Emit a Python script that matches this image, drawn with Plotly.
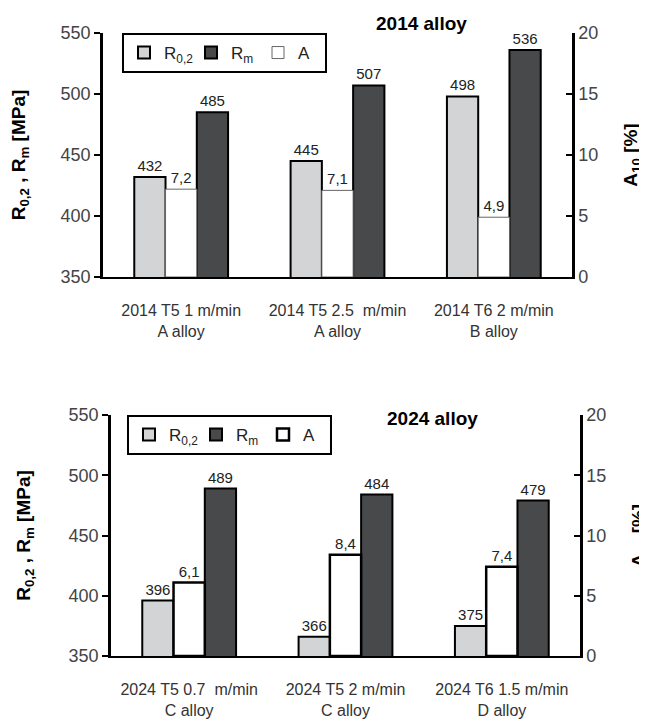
import plotly.graph_objects as go

# ---- data ----
cats_2014 = ["2014 T5 1 m/min<br>A alloy", "2014 T5 2.5  m/min<br>A alloy", "2014 T6 2 m/min<br>B alloy"]
r02_2014 = [432, 445, 498]
rm_2014 = [485, 507, 536]
a_2014 = [7.2, 7.1, 4.9]

cats_2024 = ["2024 T5 0.7  m/min<br>C alloy", "2024 T5 2 m/min<br>C alloy", "2024 T6 1.5 m/min<br>D alloy"]
r02_2024 = [396, 366, 375]
rm_2024 = [489, 484, 479]
a_2024 = [6.1, 8.4, 7.4]

r_ticks = [350, 400, 450, 500, 550]
a_ticks = [0, 5, 10, 15, 20]

W, H = 647, 722
OFF = 8  # page body margin
GRAY = "#d3d4d6"
DARK = "#48494b"
LBL = dict(family="Liberation Sans, Arial", size=15, color="#222")
TICKF = dict(family="Liberation Sans, Arial", size=18, color="#444")
CATF = dict(family="Liberation Sans, Arial", size=16, color="#333")


def fmt(v):
    return f"{v:.1f}".replace(".", ",")


def px(x):
    return (x - OFF) / W


def py(y):
    return 1 - (y - OFF) / H


fig = go.Figure()


def add_group(cats, r02, rm, a, xa, ya, ya2, legend, a_line):
    fig.add_trace(go.Bar(x=cats, y=r02, name="R<sub>0,2</sub>", xaxis=xa, yaxis=ya,
                         offset=-0.3, width=0.2, marker=dict(color=GRAY, line=dict(color="black", width=2)),
                         text=[str(v) for v in r02], textposition="outside", textfont=LBL,
                         cliponaxis=False, legend=legend))
    fig.add_trace(go.Bar(x=cats, y=rm, name="R<sub>m</sub>", xaxis=xa, yaxis=ya,
                         offset=0.1, width=0.2, marker=dict(color=DARK, line=dict(color="black", width=2)),
                         text=[str(v) for v in rm], textposition="outside", textfont=LBL,
                         cliponaxis=False, legend=legend))
    fig.add_trace(go.Bar(x=cats, y=a, name="A", xaxis=xa, yaxis=ya2,
                         offset=-0.1, width=0.2, marker=dict(color="white", line=a_line),
                         text=[fmt(v) for v in a], textposition="outside", textfont=LBL,
                         cliponaxis=False, legend=legend))


add_group(cats_2014, r02_2014, rm_2014, a_2014, "x", "y", "y2", "legend",
          dict(color="#666", width=1))
add_group(cats_2024, r02_2024, rm_2024, a_2024, "x2", "y3", "y4", "legend2",
          dict(color="black", width=2.5))

common_x = dict(type="category", showline=True, linecolor="black", linewidth=2,
                ticks="", showgrid=False, tickfont=CATF, zeroline=False,
                automargin=False, ticklabelstandoff=18)
left_y = dict(range=[350, 550], tickvals=r_ticks, showline=True, linecolor="black", linewidth=2.5,
              ticks="outside", ticklen=6, tickwidth=2, tickcolor="black", showgrid=False,
              zeroline=False, tickfont=TICKF, automargin=False,
              title=dict(text="<b>R<sub>0,2</sub> , R<sub>m</sub> [MPa]</b>",
                         font=dict(family="Liberation Sans, Arial", size=19, color="black"), standoff=33))
right_y = dict(range=[0, 20], tickvals=a_ticks, showline=True, linecolor="black", linewidth=2.5,
               ticks="inside", ticklen=6, tickwidth=2, tickcolor="black", showgrid=False,
               zeroline=False, tickfont=TICKF, side="right", automargin=False,
               title=dict(text="<b>A<sub>10</sub> [%]</b>",
                          font=dict(family="Liberation Sans, Arial", size=19, color="black"), standoff=27))

top_dom_x = [px(103), px(572)]
top_dom_y = [py(277), py(33)]
bot_dom_x = [px(111), px(580)]
bot_dom_y = [py(656), py(415)]

legend_common = dict(orientation="h", bordercolor="black", borderwidth=2, bgcolor="white",
                     font=dict(family="Liberation Sans, Arial", size=17, color="#222"),
                     xanchor="left", yanchor="top", itemwidth=30, entrywidth=22,
                     traceorder="normal", tracegroupgap=0, itemclick=False)

fig.update_layout(
    width=W, height=H, margin=dict(l=0, r=0, t=0, b=0, autoexpand=False),
    paper_bgcolor="white", plot_bgcolor="white",
    barmode="overlay", bargap=0.4,
    xaxis=dict(common_x, domain=top_dom_x, anchor="y"),
    yaxis=dict(left_y, domain=top_dom_y, anchor="x"),
    yaxis2=dict(right_y, overlaying="y", anchor="x"),
    xaxis2=dict(common_x, domain=bot_dom_x, anchor="y3"),
    yaxis3=dict(left_y, domain=bot_dom_y, anchor="x2"),
    yaxis4=dict(right_y, overlaying="y3", anchor="x2"),
    legend=dict(legend_common, x=px(122), y=py(33)),
    legend2=dict(legend_common, x=px(127), y=py(415)),
    annotations=[
        dict(text="<b>2014 alloy</b>", x=px(421), y=py(23), xref="paper", yref="paper",
             xanchor="center", yanchor="middle", showarrow=False,
             font=dict(family="Liberation Sans, Arial", size=19, color="black")),
        dict(text="<b>2024 alloy</b>", x=px(432), y=py(418), xref="paper", yref="paper",
             xanchor="center", yanchor="middle", showarrow=False,
             font=dict(family="Liberation Sans, Arial", size=19, color="black")),
    ],
    showlegend=True,
)

fig.write_html("out.html")
